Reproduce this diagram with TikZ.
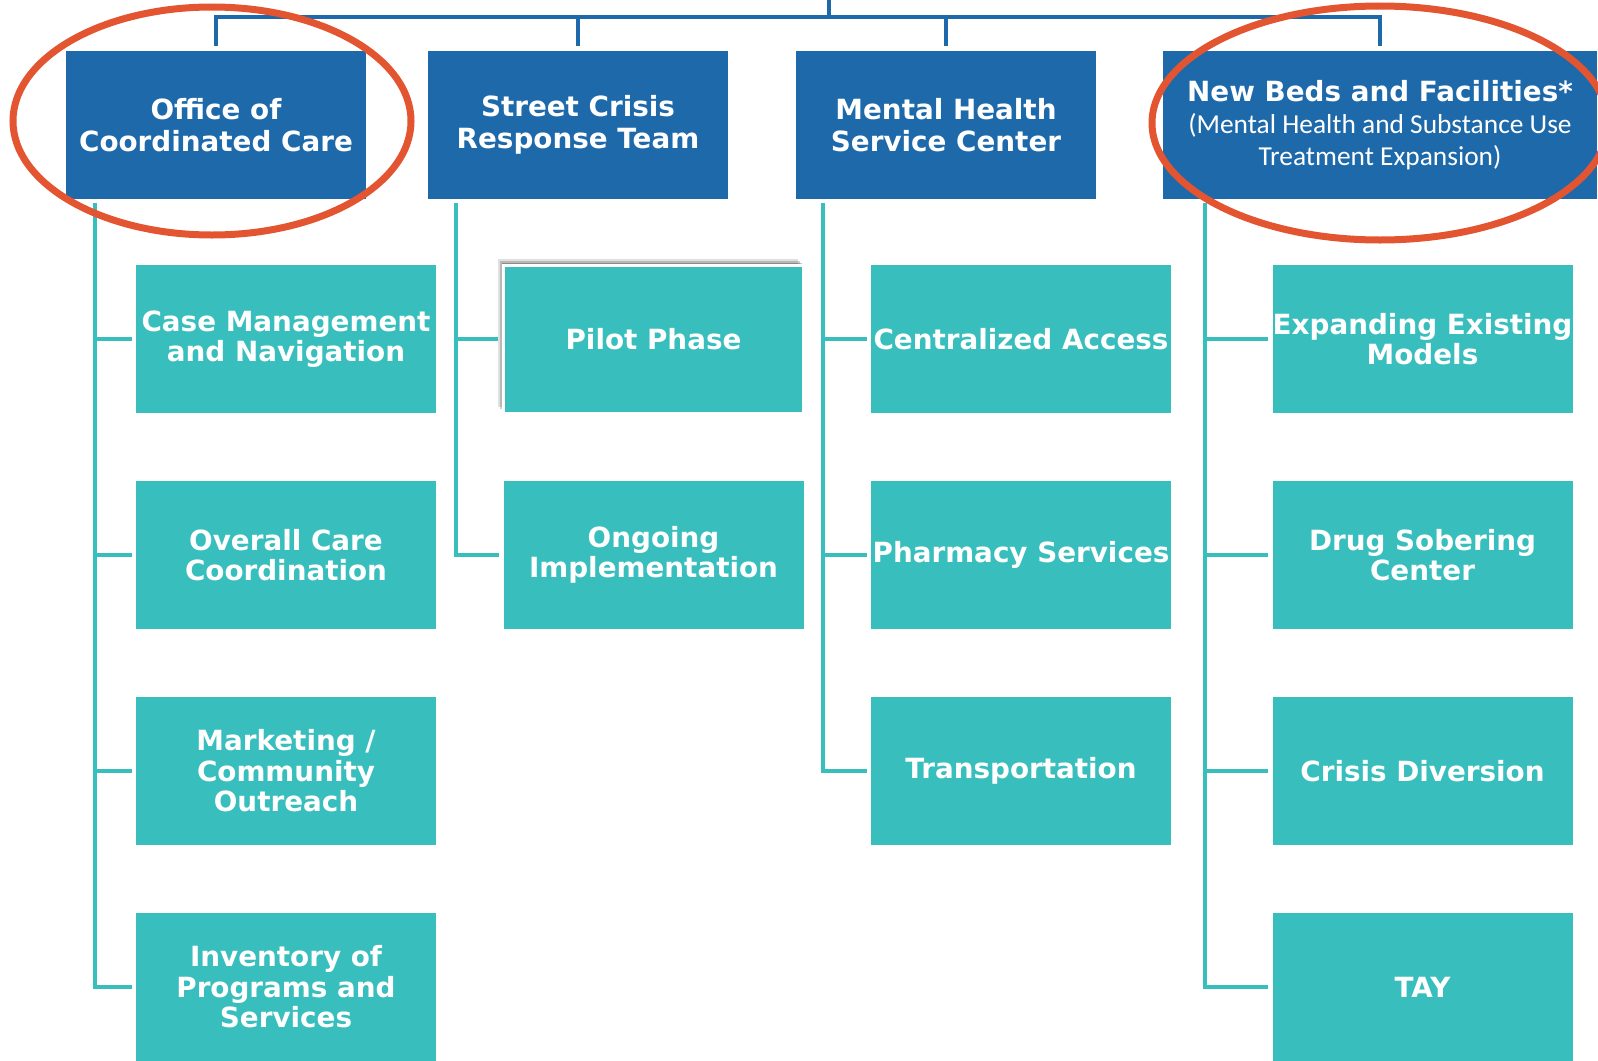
\documentclass[tikz,border=0pt]{standalone}
\usepackage{fontspec}
\setmainfont{DejaVu Sans}
\newfontfamily\notefont{Carlito}
\usepackage{xcolor}
\definecolor{headblue}{RGB}{30,105,170}
\definecolor{subteal}{RGB}{57,190,190}
\definecolor{markred}{RGB}{227,84,48}
\usepackage{tikz}
\usetikzlibrary{shadows}
\newcommand{\widthbox}{150pt}
\newcommand{\widthwide}{217pt}
\newcommand{\heightbox}{74pt}
\tikzset{
    common/.style={rectangle, inner sep=0pt, minimum width=\widthbox, minimum height=\heightbox,
        text=white, align=center, font=\bfseries\fontsize{13.9}{16}\selectfont},
    head/.style={common, fill=headblue},
    sub/.style={common, fill=subteal, font=\bfseries\fontsize{13.9}{15.3}\selectfont},
    lifted/.style={draw=white, line width=1.5pt,
        drop shadow={shadow xshift=-3pt, shadow yshift=3pt, opacity=0.12, fill=black},
        drop shadow={shadow xshift=-2pt, shadow yshift=2pt, opacity=0.18, fill=black},
        drop shadow={shadow xshift=-1pt, shadow yshift=1pt, opacity=0.25, fill=black}},
    trunk/.style={headblue, line width=1.75pt},
    branch/.style={subteal, line width=1.75pt, shorten >=2pt},
    highlight/.style={draw=markred, line width=3.5pt}
}

\begin{document}
\begin{tikzpicture}[x=0.5pt, y=-0.5pt]
      \useasboundingbox (0,0) rectangle (1598,1060);

      \node[head] (occ) at (216,125) {Office of\\Coordinated Care};
      \node[head] (scrt) at (578,125) {Street Crisis\\Response Team};
      \node[head] (mhsc) at (946,125) {Mental Health\\Service Center};
      \node[head, minimum width=\widthwide] (beds) at (1380,125) {New Beds and Facilities*\\
          {\notefont\mdseries\fontsize{13.7}{16}\selectfont (Mental Health and Substance Use}\\
          {\notefont\mdseries\fontsize{13.7}{16}\selectfont Treatment Expansion)}};

      \node[sub] (case) at (286,339) {Case Management\\and Navigation};
      \node[sub] (overall) at (286,555) {Overall Care\\Coordination};
      \node[sub] (marketing) at (286,771) {Marketing /\\Community\\Outreach};
      \node[sub] (inventory) at (286,987) {Inventory of\\Programs and\\Services};

      \node[sub, lifted] (pilot) at (653.5,339) {Pilot Phase};
      \node[sub] (ongoing) at (653.5,555) {Ongoing\\Implementation};

      \node[sub] (access) at (1021,339) {Centralized Access};
      \node[sub] (pharmacy) at (1021,555) {Pharmacy Services};
      \node[sub] (transport) at (1021,771) {Transportation};

      \node[sub] (expand) at (1422.5,339) {Expanding Existing\\Models};
      \node[sub] (sobering) at (1422.5,555) {Drug Sobering\\Center};
      \node[sub] (diversion) at (1422.5,771) {Crisis Diversion};
      \node[sub] (tay) at (1422.5,987) {TAY};

      \coordinate (root) at (829,0);
      \coordinate (hub) at (829,17);
      \coordinate (occ-stem) at (95,203);
      \coordinate (scrt-stem) at (456,203);
      \coordinate (mhsc-stem) at (823,203);
      \coordinate (beds-stem) at (1205,203);

      \draw[trunk] (root) -- (hub);
      \foreach \top in {occ, scrt, mhsc, beds}
          \draw[trunk, shorten >=2.5pt] (hub) -| (\top.north);

      \foreach \leaf in {case, overall, marketing, inventory}
          \draw[branch] (occ-stem) |- (\leaf.west);
      \foreach \leaf in {pilot, ongoing}
          \draw[branch] (scrt-stem) |- (\leaf.west);
      \foreach \leaf in {access, pharmacy, transport}
          \draw[branch] (mhsc-stem) |- (\leaf.west);
      \foreach \leaf in {expand, sobering, diversion, tay}
          \draw[branch] (beds-stem) |- (\leaf.west);

      \draw[highlight] ([shift={(-4,-4)}]occ.center) ellipse [x radius=199, y radius=114];
      \draw[highlight] ([shift={(0,-2)}]beds.center) ellipse [x radius=228, y radius=117];
\end{tikzpicture}
\end{document}
